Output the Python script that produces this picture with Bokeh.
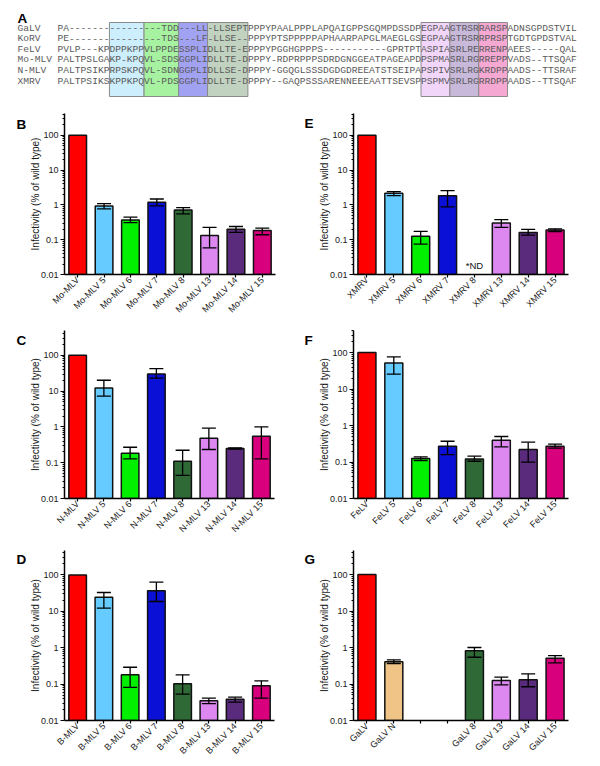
import math
from bokeh.plotting import figure
from bokeh.layouts import column, row
from bokeh.models import (ColumnDataSource, Range1d, FactorRange, FixedTicker,
                          CustomJSTickFormatter, Whisker, TeeHead)
from bokeh.core.properties import value
from bokeh.embed import file_html
from bokeh.resources import INLINE

NaN = float("nan")

# ---------------- Panel A: alignment ----------------
seq_names = ["GaLV", "KoRV", "FeLV", "Mo-MLV", "N-MLV", "XMRV"]
seq_rows = [
    "PA-------" + "------" + "---TDD" + "---LL" + "-LLSEPT" + "PPPYPAA" + "LPPPLAPQAIGPPSGQMPDSSDP" + "EGPAA" + "GTRSR" + "RARSP" + "ADNSGPDSTVIL",
    "PE-------" + "------" + "---TDS" + "---LF" + "-LLSE--" + "PPPYPTS" + "PPPPPAPHAARPAPGLMAEGLGS" + "EGPAA" + "GTRSR" + "RPRSP" + "TGDTGPDSTVAL",
    "PVLP---KP" + "DPPKPP" + "VLPPDE" + "SSPLI" + "DLLTE-E" + "PPPYPGG" + "HGPPPS" + "-----------" + "GPRTPT" + "ASPIA" + "SRLRE" + "RRENP" + "AEES-----QAL",
    "PALTPSLGA" + "KP-KPQ" + "VL-SDS" + "GGPLI" + "DLLTE-D" + "PPPY-RD" + "PRPPPSDRDGNGGEATPAGEAPD" + "PSPMA" + "SRLRG" + "RREPP" + "VADS--TTSQAF",
    "PALTPSIKP" + "RPSKPQ" + "VL-SDN" + "GGPLI" + "DLLSE-D" + "PPPY-GG" + "QGLSSSDGDGDREEATSTSEIPA" + "PSPIV" + "SRLRG" + "KRDPP" + "AADS--TTSRAF",
    "PALTPSIKS" + "KPPKPQ" + "VL-PDS" + "GGPLI" + "DLLTE-D" + "PPPY--G" + "AQPSSSARENNEEEAATTSEVSP" + "PSPMV" + "SRLRG" + "RRDPP" + "AADS--TTSQAF",
]
box_start = [9, 15, 21, 26, 63, 68, 73]
box_end = [15, 21, 26, 33, 68, 73, 78]
box_colors = ["#cdeefc", "#a6f2a0", "#a2a2f2", "#c2d2c0", "#f2d6fa", "#c8b8da", "#f4a8d2"]

# ---------------- Bar panels data ----------------
RED, LBLUE, GREEN, BLUE = "#ff0000", "#66ccff", "#00f000", "#0a10d6"
DGREEN, VIOLET, PURPLE, MAGENTA, TAN = "#2f6a36", "#dc88f0", "#5a2a7c", "#d8007c", "#f0c486"
colors_std = [RED, LBLUE, GREEN, BLUE, DGREEN, VIOLET, PURPLE, MAGENTA]
colors_galv = [RED, TAN, GREEN, BLUE, DGREEN, VIOLET, PURPLE, MAGENTA]

cats_B = ["Mo-MLV", "Mo-MLV 5", "Mo-MLV 6", "Mo-MLV 7", "Mo-MLV 8", "Mo-MLV 13", "Mo-MLV 14", "Mo-MLV 15"]
vals_B = [100, 0.93, 0.37, 1.19, 0.72, 0.133, 0.20, 0.185]
hi_B = [NaN, 1.09, 0.446, 1.48, 0.84, 0.225, 0.24, 0.215]
lo_B = [NaN, 0.77, 0.312, 0.94, 0.55, 0.058, 0.162, 0.139]

cats_C = ["N-MLV", "N-MLV 5", "N-MLV 6", "N-MLV 7", "N-MLV 8", "N-MLV 13", "N-MLV 14", "N-MLV 15"]
vals_C = [100, 12.3, 0.184, 30.2, 0.11, 0.48, 0.25, 0.55]
hi_C = [NaN, 20.1, 0.27, 42.7, 0.223, 0.92, 0.26, 1.0]
lo_C = [NaN, 7.2, 0.128, 22.9, 0.044, 0.234, 0.24, 0.128]

cats_D = ["B-MLV", "B-MLV 5", "B-MLV 6", "B-MLV 7", "B-MLV 8", "B-MLV 13", "B-MLV 14", "B-MLV 15"]
vals_D = [100, 24.4, 0.18, 36.6, 0.102, 0.035, 0.0385, 0.09]
hi_D = [NaN, 32.8, 0.29, 63.0, 0.18, 0.041, 0.0437, 0.123]
lo_D = [NaN, 12.2, 0.081, 18.6, 0.053, 0.029, 0.0318, 0.041]

cats_E = ["XMRV", "XMRV 5", "XMRV 6", "XMRV 7", "XMRV 8", "XMRV 13", "XMRV 14", "XMRV 15"]
vals_E = [100, 2.16, 0.125, 1.85, NaN, 0.30, 0.162, 0.19]
hi_E = [NaN, 2.4, 0.173, 2.57, NaN, 0.38, 0.197, 0.205]
lo_E = [NaN, 1.85, 0.075, 0.88, NaN, 0.225, 0.136, 0.172]
nd_E = "XMRV 8"

cats_F = ["FeLV", "FeLV 5", "FeLV 6", "FeLV 7", "FeLV 8", "FeLV 13", "FeLV 14", "FeLV 15"]
vals_F = [100, 51.9, 0.125, 0.27, 0.12, 0.395, 0.22, 0.27]
hi_F = [NaN, 75.7, 0.138, 0.37, 0.144, 0.50, 0.35, 0.31]
lo_F = [NaN, 25.4, 0.11, 0.16, 0.105, 0.26, 0.099, 0.24]

# two unlabeled empty slots between "GaLV N" and "GaLV 8"
cats_G = ["GaLV", "GaLV N", " ", "  ", "GaLV 8", "GaLV 13", "GaLV 14", "GaLV 15"]
vals_G = [100, 0.41, NaN, NaN, 0.81, 0.125, 0.13, 0.51]
hi_G = [NaN, 0.46, NaN, NaN, 1.0, 0.154, 0.19, 0.60]
lo_G = [NaN, 0.365, NaN, NaN, 0.54, 0.095, 0.084, 0.38]

YLABEL = "Infectivity (% of wild type)"
FONT = "Liberation Sans"
MONO = "Liberation Mono"


def bare(w, h, xr, yr):
    f = figure(width=w, height=h, output_backend="svg", toolbar_location=None,
               x_range=xr, y_range=yr, x_axis_location=None, y_axis_location=None,
               min_border=0)
    f.grid.visible = False
    f.outline_line_color = None
    return f


# ---------------- Panel A figure ----------------
CW = 5.77          # px per alignment column
A_W, A_H = 600, 100
x0_px = 57         # left edge of column 0
row0_px, row_dy = 27.5, 10.6
pA = bare(A_W, A_H, Range1d(-x0_px / CW, (A_W - x0_px) / CW),
          Range1d((A_H - row0_px) / row_dy, -row0_px / row_dy))
pA.quad(left=box_start, right=box_end, top=(22 - row0_px) / row_dy, bottom=(96 - row0_px) / row_dy,
        fill_color=box_colors, line_color="#8a8a8a", line_width=1)
cx, cy, ct = [], [], []
for r, s in enumerate(seq_rows):
    for c, ch in enumerate(s):
        cx.append(c + 0.5)
        cy.append(r)
        ct.append(ch)
pA.text(x=cx, y=cy, text=ct, text_align="center", text_baseline="middle",
        text_font=value(MONO), text_font_size="9.6px", text_color="#5a5a5a")
name_x = (17 - x0_px) / CW
pA.text(x=[name_x] * len(seq_names), y=list(range(len(seq_names))), text=seq_names,
        text_align="left", text_baseline="middle",
        text_font=value(MONO), text_font_size="9.6px", text_color="#5a5a5a")
pA.text(x=[name_x], y=[(18 - row0_px) / row_dy], text=["A"], text_align="left",
        text_baseline="alphabetic", text_font=value(FONT), text_font_style="bold",
        text_font_size="13.5px", text_color="black")


def letter_strip(letter, w, h, lx, base_y):
    s = bare(w, h, Range1d(0, w), Range1d(h, 0))
    s.text(x=[lx], y=[base_y], text=[letter], text_align="left", text_baseline="alphabetic",
           text_font=value(FONT), text_font_style="bold", text_font_size="13.5px",
           text_color="black")
    return s


def bar_panel(cats, vals, hi, lo, cols, width, height, bl, br, bt, bb, decade_px, nd=None):
    fh = height - bt - bb
    ytop = 10 ** (-2 + fh / decade_px)
    p = figure(width=width, height=height, x_range=FactorRange(factors=cats),
               y_axis_type="log", y_range=Range1d(0.01, ytop),
               output_backend="svg", toolbar_location=None,
               min_border_left=bl, min_border_right=br,
               min_border_top=bt, min_border_bottom=bb)
    p.grid.visible = False
    p.outline_line_color = None
    p.background_fill_color = "white"

    keep = [i for i, v in enumerate(vals) if not math.isnan(v)]
    bsrc = ColumnDataSource(dict(cat=[cats[i] for i in keep], top=[vals[i] for i in keep],
                                 color=[cols[i] for i in keep]))
    p.vbar(x="cat", top="top", bottom=0.001, width=0.67, fill_color="color",
           line_color="#111111", line_width=1.5, source=bsrc)
    ek = [i for i in keep if not math.isnan(hi[i])]
    esrc = ColumnDataSource(dict(cat=[cats[i] for i in ek], hi=[hi[i] for i in ek],
                                 lo=[lo[i] for i in ek]))
    w = Whisker(base="cat", upper="hi", lower="lo", source=esrc, dimension="height",
                level="overlay", line_color="black", line_width=1.3,
                upper_head=TeeHead(size=14, line_width=1.3, line_color="black"),
                lower_head=TeeHead(size=14, line_width=1.3, line_color="black"))
    p.add_layout(w)
    if nd is not None:
        p.text(x=[nd], y=[0.018], text=["*ND"], text_align="center", text_baseline="middle",
               text_font=value(FONT), text_font_size="9.5px", text_color="#111111")

    major = [0.01, 0.1, 1, 10, 100]
    minor = [k * 10 ** e for e in range(-2, 3) for k in range(2, 10) if k * 10 ** e <= ytop]
    ya = p.yaxis[0]
    ya.ticker = FixedTicker(ticks=major, minor_ticks=minor)
    ya.formatter = CustomJSTickFormatter(code="return String(tick);")
    ya.axis_line_width = 1.5
    ya.axis_line_color = "black"
    ya.major_tick_out = 4
    ya.major_tick_in = 0
    ya.minor_tick_out = 2
    ya.minor_tick_in = 0
    ya.major_tick_line_width = 1.2
    ya.minor_tick_line_width = 1
    ya.major_tick_line_color = "black"
    ya.minor_tick_line_color = "black"
    ya.major_label_text_font = FONT
    ya.major_label_text_font_size = "9px"
    ya.major_label_text_color = "#1a1a1a"
    ya.major_label_standoff = 2
    ya.axis_label = YLABEL
    ya.axis_label_text_font = FONT
    ya.axis_label_text_font_size = "10px"
    ya.axis_label_text_font_style = "normal"
    ya.axis_label_text_color = "#1a1a1a"
    ya.axis_label_standoff = -3

    xa = p.xaxis[0]
    xa.major_label_orientation = math.pi / 4
    xa.axis_line_width = 1.5
    xa.axis_line_color = "black"
    xa.major_tick_out = 3
    xa.major_tick_in = 0
    xa.major_tick_line_width = 1.2
    xa.major_tick_line_color = "black"
    xa.major_label_standoff = 1
    xa.major_label_text_font = FONT
    xa.major_label_text_font_size = "9px"
    xa.major_label_text_color = "#1a1a1a"
    return p


LSW, RSW = 26, 15           # letter strip widths
LW, RW = 300 - LSW, 300 - RSW

pB = bar_panel(cats_B, vals_B, hi_B, lo_B, colors_std, LW, 220, 35, 25, 13, 45, 35.0)
pE = bar_panel(cats_E, vals_E, hi_E, lo_E, colors_std, RW, 220, 34, 32, 13, 45, 35.0, nd=nd_E)
pC = bar_panel(cats_C, vals_C, hi_C, lo_C, colors_std, LW, 224, 37, 26, 10, 46, 35.8)
pF = bar_panel(cats_F, vals_F, hi_F, lo_F, colors_std, RW, 224, 34, 32, 10, 46, 36.5)
pD = bar_panel(cats_D, vals_D, hi_D, lo_D, colors_std, LW, 222, 37, 26, 6, 46, 36.4)
pG = bar_panel(cats_G, vals_G, hi_G, lo_G, colors_galv, RW, 222, 34, 32, 6, 46, 36.5)

row1 = row(letter_strip("B", LSW, 220, 16, 15), pB, letter_strip("E", RSW, 220, 4, 14), pE, spacing=0)
row2 = row(letter_strip("C", LSW, 224, 16, 13), pC, letter_strip("F", RSW, 224, 4, 13), pF, spacing=0)
row3 = row(letter_strip("D", LSW, 222, 16, 11.5), pD, letter_strip("G", RSW, 222, 4, 11.5), pG, spacing=0)

layout = column(pA, row1, row2, row3, spacing=0)

open("out.html", "w").write(file_html(layout, INLINE))
